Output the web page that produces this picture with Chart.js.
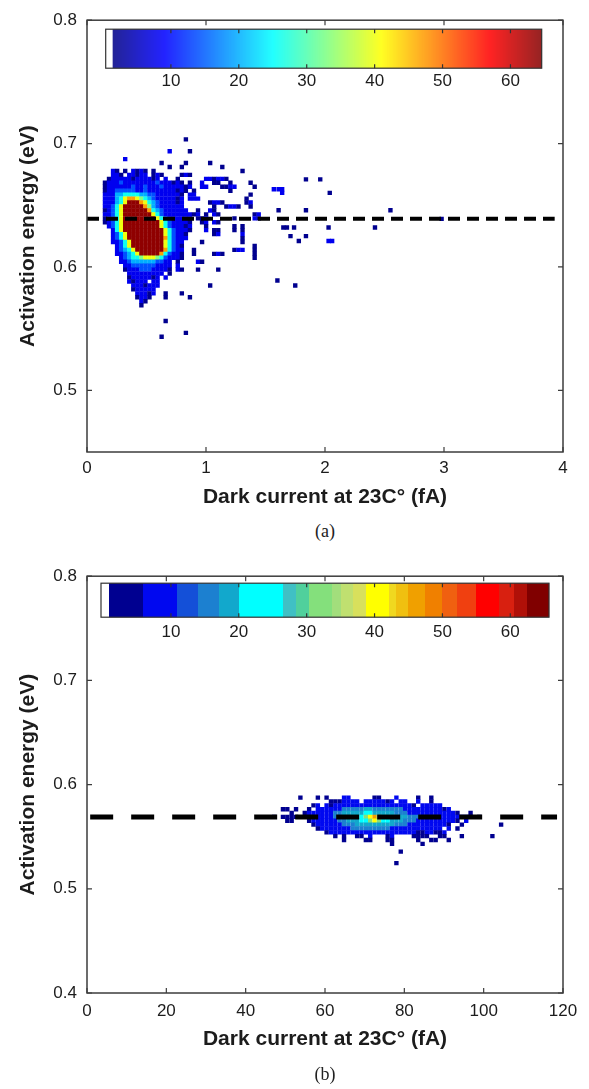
<!DOCTYPE html>
<html lang="en">
<head>
<meta charset="UTF-8">
<title>Activation energy vs dark current</title>
<script src="https://cdn.jsdelivr.net/npm/chart.js"></script>
<style>
    body, html {
        margin: 0;
        padding: 0;
        width: 589px;
        height: 1089px;
        overflow: hidden;
        background: #fff;
    }
    canvas {
        position: absolute;
        left: 0;
    }
    .cap {
        position: absolute;
        left: 0;
        width: 650px;
        text-align: center;
        font-family: 'Liberation Serif', 'DejaVu Serif', serif;
        font-size: 18px;
        line-height: 20px;
        color: #222;
    }
</style>
</head>
<body>
<canvas id="chartA" width="589" height="520" style="top:0"></canvas>
<div class="cap" style="top:521px">(a)</div>
<canvas id="chartB" width="589" height="520" style="top:556px"></canvas>
<div class="cap" style="top:1064px">(b)</div>

<script>
// ---------------- data ----------------
const xTicksA = [0, 1, 2, 3, 4];
const yTicksA = [0.5, 0.6, 0.7, 0.8];
const xRangeA = [0, 4];
const yRangeA = [0.45, 0.8];
const meanLineA = { y: 0.639, from: 0, to: 3.93 };

const xTicksB = [0, 20, 40, 60, 80, 100, 120];
const yTicksB = [0.4, 0.5, 0.6, 0.7, 0.8];
const xRangeB = [0, 120];
const yRangeB = [0.4, 0.8];
const meanLineB = { y: 0.569, from: 0.8, to: 118.5 };

const colorbarTicks = [10, 20, 30, 40, 50, 60];

// histogram counts: one character per bin
const levelCounts = { '1': 2, '2': 8, '3': 14, '4': 20, '5': 26, '6': 33, '7': 40, '8': 47, '9': 55, 'R': 64 };

// (a) bins: x = x0 + col*dx (fA), y = y0 - row*dy (eV)
const binsA = { x0: 0.151, dx: 0.034, y0: 0.7034, dy: 0.0032 };
const gridA = [
    ".......... .......... 1",
    "",
    "",
    ".......... ......2... .1",
    "",
    ".....2",
    ".......... ....1..... 1.....1",
    ".......... ......1..1 .........1",
    "..21.1.212 1.1....... .......... ....1",
    "..221.2212 2.121....1 21",
    ".122222122 2212.2..1. .....22122 1",
    "1222322222 2223222121 .1..2..11. .1....1",
    "1222222322 3222322222 12..22...1 122....1",
    "1223333322 3222222212 1.1....... .1",
    "2224455554 4332222221 .22....... ......1",
    "2224578876 5432222212 .222...... .....1",
    "222457RRR8 7543222212 ......1221 .....12",
    "22357RRRRR 8643222222 .......1.. 1221..1",
    "12357RRRRR R854322222 2..1..21",
    "22357RRRRR RR75322222 2212.1.21. .......12",
    "12357RRRRR RRR7532222 22.112.... ..1....21",
    "12357RRRRR RRRR753222 21..12.21.",
    ".2357RRRRR RRRR753222 12...1.... ..1.1",
    "..257RRRRR RRRRR75322 21...2.11. ..1.1",
    "..2357RRRR RRRRR75322 1......12. ....2",
    "..2357RRRR RRRRR85322 2......... ....1",
    "..22357RRR RRRRR75322 ....1..... ....1",
    "...2357RRR RRRRR75321 .......... .......1",
    "...23457RR RRRRR85322 ..1....... ..122..1",
    "...223457R RRRR853221 ..1....121 .......1",
    "....234556 7776532221 .......... .......1",
    "....223444 4443322.1. ...21",
    ".....22333 3332222.2.",
    ".....12223 3322221.21 ...1....1",
    "......2222 22222.1",
    "......1222 2212.2",
    "......2122 2.22",
    ".......222 1222...... ......1",
    ".......122 222",
    "........22 212..1...1",
    "........12 21...1.... .1",
    ".........2 1",
    ".........1",
    "",
    "",
    "",
    ".......... .....1",
    "",
    "",
    ".......... .......... 1",
    ".......... ....1"
];
// (a) isolated bins far from the cluster: [fA, eV, count]
const outliersA = [
    [1.57, 0.663, 8], [1.61, 0.663, 8], [1.64, 0.663, 8], [1.64, 0.660, 8],
    [1.84, 0.671, 2], [1.96, 0.671, 2], [2.04, 0.660, 2],
    [1.61, 0.646, 2], [1.84, 0.646, 2], [2.55, 0.646, 2],
    [1.65, 0.632, 2], [1.68, 0.632, 2], [1.74, 0.632, 2], [2.03, 0.632, 2], [2.42, 0.632, 2],
    [1.71, 0.625, 2], [1.84, 0.625, 2], [1.78, 0.621, 2], [2.03, 0.621, 8], [2.06, 0.621, 8],
    [1.60, 0.589, 2], [1.75, 0.585, 2], [2.98, 0.639, 2]
];

// (b) bins
const binsB = { x0: 45.0, dx: 1.1, y0: 0.5875, dy: 0.0037 };
const gridB = [
    "........1. ..1.1...22 .....11... 2....1..1.",
    ".......... .....11122 22.2222212 .22..2..1.",
    ".......... .12.212222 2222222222 22221.2222 2",
    "....11.1.. 1.22222233 3334433333 3322222222 212",
    "......1..1 2222223344 4445544444 3332222222 22221..1",
    "..1.1111.. .222223344 5556786555 5443332222 22222221.1",
    ".....11... 1222222334 4455676554 4433322222 22221.2",
    ".......... .122222233 3444444444 3332222222 221..1.... ....1",
    ".......... ..12222222 3333333332 2222222222 2.2.1",
    ".......... ....122222 2222222222 2222211221 12",
    ".......... ......1.1. .11.2...12 ....1111.. 11...1.... ..1",
    ".......... ........1. ...11...11 .....1..11 ..1",
    ".......... .......... .........1 ......1",
    "",
    ".......... .......... .......... .1",
    "",
    "",
    ".......... .......... .......... 1"
];

// ---------------- colour maps ----------------
const bandsB = [
    [-9, '#ffffff'], [0.9, '#000090'], [5.9, '#0008f0'], [10.9, '#1450d8'], [14.0, '#1c80d0'],
    [17.1, '#12a8cc'], [20.1, '#00ffff'], [26.5, '#40c0c4'], [28.4, '#50d09c'], [30.3, '#84e07c'],
    [33.7, '#a2de7c'], [35.1, '#c0e070'], [36.8, '#d8e05c'], [38.7, '#ffff00'], [42.1, '#f0d820'],
    [43.1, '#f0c010'], [45.0, '#f0a000'], [47.4, '#f08000'], [50.0, '#f06010'], [52.1, '#f04010'],
    [55.0, '#ff0000'], [58.4, '#d82010'], [60.6, '#b01008'], [62.5, '#800000']
];

function jet(v) {
    const t = Math.max(0, Math.min(1, (v - 1) / 64));
    const ch = k => Math.round(255 * Math.max(0, Math.min(1, 1.5 - Math.abs(4 * t - k))));
    return 'rgb(' + ch(3) + ',' + ch(2) + ',' + ch(1) + ')';
}
function banded(v) {
    let col = bandsB[0][1];
    bandsB.forEach(b => { if (v >= b[0]) col = b[1]; });
    return col;
}

function cellsFromGrid(rows, bins) {
    const pts = [];
    rows.forEach((row, r) => {
        const s = row.replace(/ /g, '');
        for (let c = 0; c < s.length; c++) {
            const n = levelCounts[s[c]];
            if (n) pts.push({ x: bins.x0 + c * bins.dx, y: bins.y0 - r * bins.dy, n: n });
        }
    });
    return pts;
}

const cellsA = cellsFromGrid(gridA, binsA).concat(outliersA.map(p => ({ x: p[0], y: p[1], n: p[2] })));
const cellsB = cellsFromGrid(gridB, binsB);

// ---------------- drawing ----------------
const FONT = "'Liberation Sans', Arial, Helvetica, sans-serif";
const INK = '#1c1c1c';

// box round the axes with inward ticks, like the original
const framePlugin = {
    id: 'frame',
    afterDatasetsDraw(chart) {
        const { ctx, chartArea: a, scales } = chart;
        ctx.save();
        ctx.strokeStyle = '#3c3c3c';
        ctx.lineWidth = 1.5;
        ctx.strokeRect(a.left, a.top, a.right - a.left, a.bottom - a.top);
        ctx.lineWidth = 1.2;
        ctx.beginPath();
        scales.x.ticks.forEach(t => {
            const px = scales.x.getPixelForValue(t.value);
            ctx.moveTo(px, a.bottom); ctx.lineTo(px, a.bottom - 5);
            ctx.moveTo(px, a.top); ctx.lineTo(px, a.top + 5);
        });
        scales.y.ticks.forEach(t => {
            const py = scales.y.getPixelForValue(t.value);
            ctx.moveTo(a.left, py); ctx.lineTo(a.left + 5, py);
            ctx.moveTo(a.right, py); ctx.lineTo(a.right - 5, py);
        });
        ctx.stroke();
        ctx.restore();
    }
};

function colorbarPlugin(cb) {
    return {
        id: 'colorbar',
        afterDraw(chart) {
            const { ctx, chartArea: a } = chart;
            const x0 = a.left + cb.left, y0 = a.top + cb.top;
            const px = v => x0 + (v - cb.vmin) / (cb.vmax - cb.vmin) * cb.width;
            ctx.save();
            for (let i = 0; i < cb.width; i++) {
                const v = cb.vmin + (i + 0.5) / cb.width * (cb.vmax - cb.vmin);
                ctx.fillStyle = v < cb.white ? '#ffffff' : cb.color(v);
                ctx.fillRect(x0 + i, y0, 1.1, cb.height);
            }
            ctx.strokeStyle = '#333';
            ctx.lineWidth = 1.2;
            ctx.strokeRect(x0, y0, cb.width, cb.height);
            ctx.beginPath();
            colorbarTicks.forEach(v => {
                const x = px(v);
                ctx.moveTo(x, y0); ctx.lineTo(x, y0 + 4);
                ctx.moveTo(x, y0 + cb.height); ctx.lineTo(x, y0 + cb.height - 4);
            });
            ctx.stroke();
            ctx.fillStyle = INK;
            ctx.font = '17px ' + FONT;
            ctx.textAlign = 'center';
            ctx.textBaseline = 'middle';
            colorbarTicks.forEach(v => ctx.fillText(String(v), px(v), y0 + cb.height + cb.labelGap));
            ctx.restore();
        }
    };
}

function makePanel(id, p) {
    const tickFont = { family: FONT, size: 17 };
    const titleFont = { family: FONT, size: 21, weight: 'bold' };
    return new Chart(document.getElementById(id), {
        type: 'scatter',
        data: {
            datasets: [{
                type: 'line',
                data: [{ x: p.line.from, y: p.line.y }, { x: p.line.to, y: p.line.y }],
                borderColor: '#000',
                borderWidth: p.dashWidth,
                borderDash: p.dash,
                pointRadius: 0,
                fill: false
            }, {
                data: p.cells,
                pointStyle: 'rect',
                pointRadius: p.cellRadius,
                pointHoverRadius: p.cellRadius,
                backgroundColor: p.cells.map(c => p.color(c.n)),
                borderWidth: 0
            }]
        },
        options: {
            responsive: false,
            animation: false,
            events: [],
            devicePixelRatio: 1,
            layout: { padding: { left: 0, right: 26, top: p.padTop, bottom: p.padBottom } },
            plugins: { legend: { display: false }, tooltip: { enabled: false } },
            scales: {
                x: {
                    type: 'linear',
                    min: p.xRange[0],
                    max: p.xRange[1],
                    afterBuildTicks: s => { s.ticks = p.xTicks.map(v => ({ value: v })); },
                    afterFit: s => { s.height = p.xAxisHeight; },
                    grid: { display: false, drawTicks: false },
                    border: { display: false },
                    ticks: { padding: p.xTickPad, color: INK, font: tickFont, callback: v => String(v) },
                    title: { display: true, text: 'Dark current at 23C° (fA)', color: INK, font: titleFont, padding: { top: 0, bottom: 4 } }
                },
                y: {
                    type: 'linear',
                    min: p.yRange[0],
                    max: p.yRange[1],
                    afterBuildTicks: s => { s.ticks = p.yTicks.map(v => ({ value: v })); },
                    afterFit: s => { s.width = 87; },
                    grid: { display: false, drawTicks: false },
                    border: { display: false },
                    ticks: { padding: 10, color: INK, font: tickFont, callback: v => v.toFixed(1) },
                    title: { display: true, text: 'Activation energy (eV)', color: INK, font: titleFont, padding: { top: 16, bottom: 0 } }
                }
            }
        },
        plugins: [framePlugin, colorbarPlugin(p.colorbar)]
    });
}

// plot area of (a): 10 .. 452 on the page
makePanel('chartA', {
    cells: cellsA, color: jet, cellRadius: 3.1,
    xRange: xRangeA, yRange: yRangeA, xTicks: xTicksA, yTicks: yTicksA,
    line: meanLineA, dash: [12, 7], dashWidth: 4,
    xAxisHeight: 62, xTickPad: 6, padTop: 10, padBottom: 6,
    colorbar: { left: 18.7, top: 9, width: 436, height: 39, vmin: 0.4, vmax: 64.6, white: 1.5, color: jet, labelGap: 13 }
});

// plot area of (b): 565 .. 993 on the page
makePanel('chartB', {
    cells: cellsB, color: banded, cellRadius: 3.1,
    xRange: xRangeB, yRange: yRangeB, xTicks: xTicksB, yTicks: yTicksB,
    line: meanLineB, dash: [23, 18], dashWidth: 5,
    xAxisHeight: 63, xTickPad: 8, padTop: 9, padBottom: 20,
    colorbar: { left: 14, top: 7, width: 448, height: 34, vmin: -0.3, vmax: 65.7, white: 0.9, color: banded, labelGap: 15 }
});
</script>
</body>
</html>
